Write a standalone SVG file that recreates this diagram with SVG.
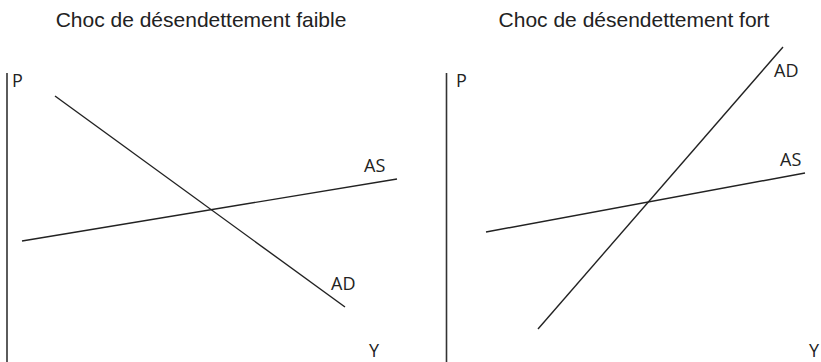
<svg xmlns="http://www.w3.org/2000/svg" width="821" height="362" viewBox="0 0 821 362">
<style>
text{font-family:"Open Sans","Liberation Sans",sans-serif;font-size:18px;fill:#222}
.t{font-family:"Liberation Sans",Arial,sans-serif;font-size:21px;fill:#222}
.ax{stroke:#333;stroke-width:1.6;fill:none}
.ln{stroke:#222;stroke-width:1.4;fill:none}
</style>
<rect width="821" height="362" fill="#fff"/>
<g id="left">
<text class="t" x="201" y="27" text-anchor="middle">Choc de désendettement faible</text>
<line class="ax" x1="7" y1="73" x2="7" y2="362"/>
<text x="12" y="87">P</text>
<text x="369" y="357">Y</text>
</g>
<g id="right">
<text class="t" x="634" y="27" text-anchor="middle">Choc de désendettement fort</text>
<line class="ax" x1="446.5" y1="73" x2="446.5" y2="362"/>
<text x="456" y="87">P</text>
<text x="809" y="357">Y</text>
</g>
<g id="connectors">
<line id="left-ad" class="ln" x1="55" y1="96" x2="345" y2="307"/>
<line id="left-as" class="ln" x1="22" y1="241" x2="397" y2="179"/>
<line id="right-as" class="ln" x1="486" y1="232" x2="805" y2="173"/>
<line id="right-ad" class="ln" x1="538" y1="329" x2="783" y2="47"/>
</g>
<g id="labels">
<text x="364" y="172">AS</text>
<text x="331" y="290">AD</text>
<text x="780" y="166">AS</text>
<text x="774" y="77">AD</text>
</g>
</svg>
